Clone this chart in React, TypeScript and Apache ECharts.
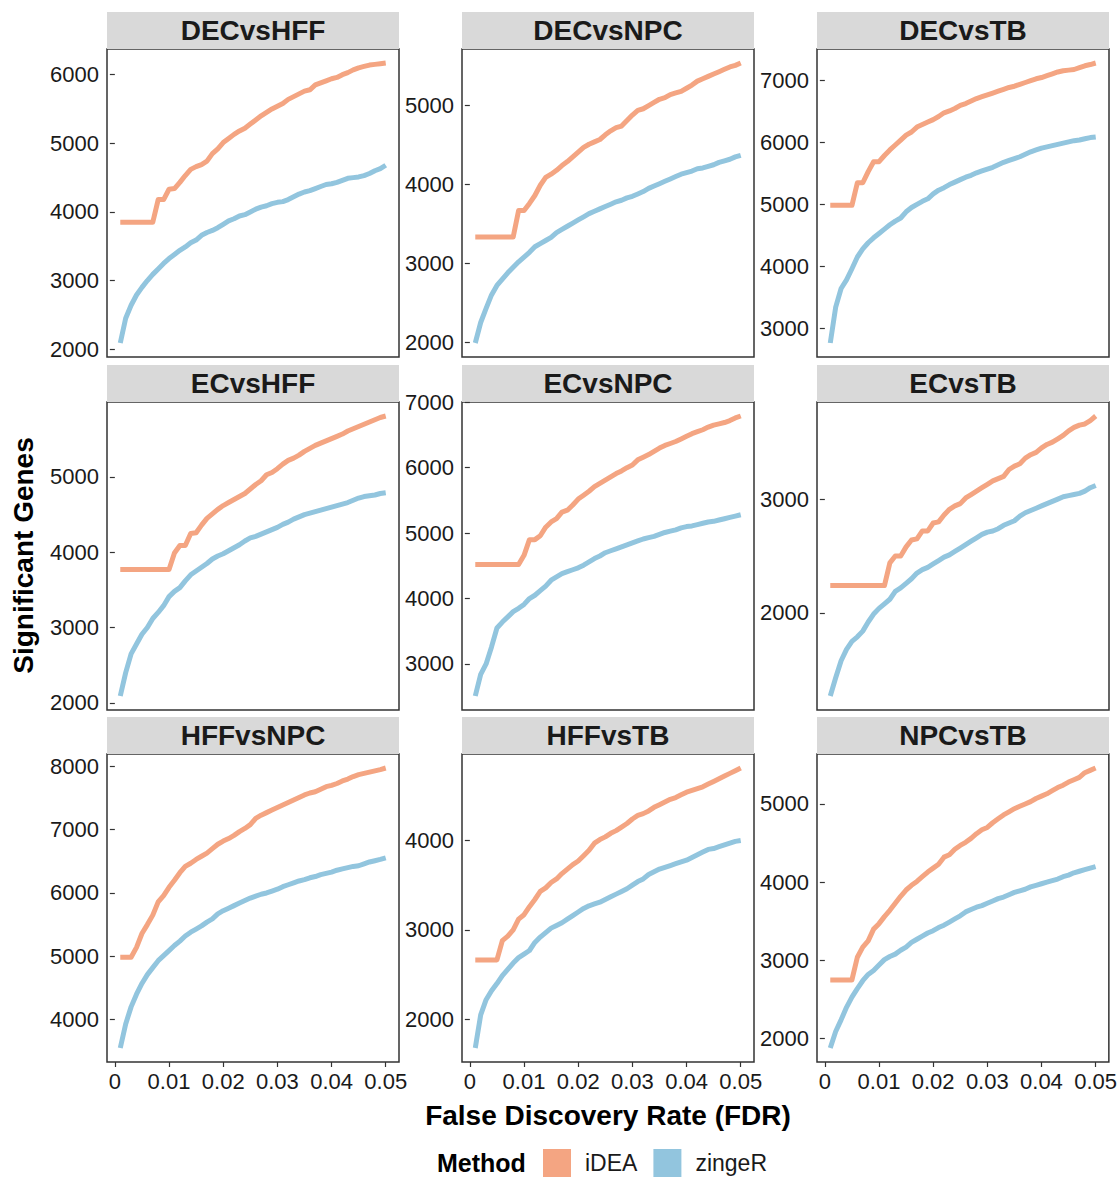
import React, { useEffect, useRef } from "react";
import * as echarts from "echarts";

const fdr = [
  0.001, 0.002, 0.003, 0.004, 0.005, 0.006, 0.007, 0.008, 0.009, 0.01,
  0.011, 0.012, 0.013, 0.014, 0.015, 0.016, 0.017, 0.018, 0.019, 0.02,
  0.021, 0.022, 0.023, 0.024, 0.025, 0.026, 0.027, 0.028, 0.029, 0.03,
  0.031, 0.032, 0.033, 0.034, 0.035, 0.036, 0.037, 0.038, 0.039, 0.04,
  0.041, 0.042, 0.043, 0.044, 0.045, 0.046, 0.047, 0.048, 0.049, 0.05,
];

const panelNames = [
  "DECvsHFF", "DECvsNPC", "DECvsTB",
  "ECvsHFF", "ECvsNPC", "ECvsTB",
  "HFFvsNPC", "HFFvsTB", "NPCvsTB",
];

const methods = ["iDEA", "zingeR"];
const methodColors = ["#F4A582", "#92C5DE"];

// ---- iDEA ----
const iDEA_DECvsHFF = [
  3850, 3850, 3850, 3850, 3850, 3850, 3850, 4180, 4180, 4330,
  4340, 4430, 4530, 4620, 4660, 4690, 4740, 4850, 4920, 5010,
  5070, 5130, 5180, 5220, 5280, 5340, 5400, 5450, 5500, 5540,
  5580, 5640, 5680, 5720, 5760, 5780, 5850, 5880, 5910, 5940,
  5960, 6000, 6030, 6070, 6100, 6120, 6140, 6150, 6160, 6170,
];
const iDEA_DECvsNPC = [
  3335, 3335, 3335, 3335, 3335, 3335, 3335, 3335, 3670, 3670,
  3760, 3860, 3990, 4090, 4130, 4180, 4240, 4290, 4350, 4410,
  4470, 4510, 4540, 4570, 4630, 4680, 4720, 4740, 4810, 4880,
  4940, 4960, 5000, 5040, 5080, 5100, 5140, 5160, 5180, 5220,
  5260, 5310, 5340, 5370, 5400, 5430, 5460, 5490, 5510, 5540,
];
const iDEA_DECvsTB = [
  4985, 4985, 4985, 4985, 4985, 5350, 5350, 5530, 5690, 5690,
  5790, 5880, 5960, 6040, 6120, 6170, 6250, 6290, 6330, 6370,
  6420, 6480, 6510, 6550, 6600, 6630, 6670, 6710, 6740, 6770,
  6800, 6830, 6860, 6890, 6910, 6940, 6970, 7000, 7030, 7050,
  7080, 7110, 7140, 7160, 7170, 7180, 7210, 7240, 7260, 7285,
];
const iDEA_ECvsHFF = [
  3770, 3770, 3770, 3770, 3770, 3770, 3770, 3770, 3770, 3770,
  3990, 4090, 4090, 4250, 4260, 4360, 4450, 4510, 4570, 4620,
  4660, 4700, 4740, 4780, 4840, 4900, 4950, 5030, 5060, 5110,
  5170, 5220, 5250, 5290, 5340, 5380, 5420, 5450, 5480, 5510,
  5540, 5570, 5610, 5640, 5670, 5700, 5730, 5760, 5790, 5810,
];
const iDEA_ECvsNPC = [
  4520, 4520, 4520, 4520, 4520, 4520, 4520, 4520, 4520, 4660,
  4900, 4900, 4960, 5090, 5170, 5220, 5320, 5350, 5430, 5520,
  5580, 5640, 5710, 5760, 5810, 5860, 5910, 5950, 6000, 6040,
  6120, 6160, 6200, 6250, 6300, 6340, 6370, 6400, 6440, 6480,
  6520, 6550, 6580, 6620, 6650, 6670, 6690, 6720, 6760, 6790,
];
const iDEA_ECvsTB = [
  2240, 2240, 2240, 2240, 2240, 2240, 2240, 2240, 2240, 2240,
  2240, 2440, 2500, 2500, 2580, 2640, 2650, 2720, 2720, 2790,
  2800, 2860, 2910, 2940, 2960, 3010, 3040, 3070, 3100, 3130,
  3160, 3180, 3200, 3260, 3290, 3310, 3360, 3390, 3410, 3450,
  3480, 3500, 3530, 3560, 3600, 3630, 3650, 3660, 3690, 3730,
];
const iDEA_HFFvsNPC = [
  4985, 4985, 4985, 5140, 5360, 5500, 5650, 5860, 5960, 6090,
  6200, 6320, 6420, 6470, 6530, 6580, 6630, 6700, 6770, 6820,
  6860, 6910, 6970, 7020, 7080, 7180, 7230, 7270, 7310, 7350,
  7390, 7430, 7470, 7510, 7550, 7580, 7600, 7640, 7680, 7700,
  7730, 7770, 7800, 7840, 7870, 7890, 7910, 7930, 7950, 7975,
];
const iDEA_HFFvsTB = [
  2665, 2665, 2665, 2665, 2665, 2880, 2930, 3000, 3120, 3170,
  3260, 3340, 3430, 3470, 3530, 3570, 3630, 3680, 3730, 3770,
  3830, 3890, 3970, 4010, 4040, 4080, 4110, 4150, 4190, 4240,
  4280, 4300, 4330, 4370, 4400, 4430, 4460, 4480, 4510, 4540,
  4560, 4580, 4600, 4630, 4660, 4690, 4720, 4750, 4780, 4810,
];
const iDEA_NPCvsTB = [
  2750, 2750, 2750, 2750, 2750, 3040, 3170, 3250, 3400, 3470,
  3560, 3640, 3730, 3820, 3900, 3960, 4010, 4070, 4130, 4180,
  4230, 4320, 4350, 4420, 4470, 4510, 4560, 4620, 4670, 4700,
  4760, 4810, 4860, 4900, 4940, 4970, 5000, 5030, 5070, 5100,
  5130, 5170, 5210, 5240, 5280, 5310, 5340, 5400, 5430, 5460,
];

// ---- zingeR ----
const zingeR_DECvsHFF = [
  2090, 2450, 2640, 2790, 2900, 3000, 3090, 3170, 3250, 3320,
  3380, 3440, 3490, 3550, 3590, 3660, 3700, 3730, 3770, 3820,
  3870, 3900, 3940, 3960, 4000, 4040, 4070, 4090, 4120, 4140,
  4150, 4180, 4220, 4260, 4290, 4310, 4340, 4370, 4400, 4410,
  4430, 4460, 4490, 4500, 4510, 4530, 4560, 4600, 4630, 4680,
];
const zingeR_DECvsNPC = [
  1990, 2250, 2430, 2600, 2720, 2800, 2880, 2950, 3020, 3080,
  3140, 3210, 3250, 3290, 3330, 3390, 3430, 3470, 3510, 3550,
  3590, 3630, 3660, 3690, 3720, 3750, 3780, 3800, 3830, 3850,
  3880, 3910, 3950, 3980, 4010, 4040, 4070, 4100, 4130, 4150,
  4170, 4200, 4210, 4230, 4250, 4280, 4300, 4320, 4350, 4370,
];
const zingeR_DECvsTB = [
  2760, 3340, 3640, 3780, 3960, 4150, 4280, 4380, 4460, 4530,
  4600, 4670, 4730, 4780, 4880, 4950, 5000, 5050, 5090, 5170,
  5230, 5270, 5320, 5360, 5400, 5440, 5470, 5510, 5540, 5570,
  5600, 5640, 5680, 5710, 5740, 5770, 5810, 5850, 5880, 5910,
  5930, 5950, 5970, 5990, 6010, 6030, 6040, 6060, 6080, 6090,
];
const zingeR_ECvsHFF = [
  2090, 2400, 2650, 2780, 2910, 3000, 3120, 3200, 3290, 3410,
  3480, 3530, 3620, 3700, 3750, 3800, 3850, 3910, 3950, 3980,
  4020, 4060, 4100, 4150, 4190, 4210, 4240, 4270, 4300, 4330,
  4370, 4400, 4440, 4470, 4500, 4520, 4540, 4560, 4580, 4600,
  4620, 4640, 4660, 4690, 4720, 4740, 4750, 4760, 4780, 4790,
];
const zingeR_ECvsNPC = [
  2510, 2840, 3000, 3260, 3550, 3640, 3720, 3800, 3850, 3910,
  4000, 4050, 4120, 4190, 4280, 4330, 4380, 4410, 4440, 4470,
  4510, 4560, 4610, 4650, 4700, 4730, 4760, 4790, 4820, 4850,
  4880, 4910, 4930, 4950, 4980, 5010, 5030, 5050, 5080, 5100,
  5110, 5130, 5150, 5170, 5180, 5200, 5220, 5240, 5260, 5280,
];
const zingeR_ECvsTB = [
  1270, 1430, 1580, 1680, 1750, 1790, 1840, 1920, 1990, 2040,
  2080, 2120, 2190, 2220, 2260, 2300, 2350, 2380, 2400, 2430,
  2460, 2490, 2510, 2540, 2570, 2600, 2630, 2660, 2690, 2710,
  2720, 2740, 2770, 2790, 2810, 2850, 2880, 2900, 2920, 2940,
  2960, 2980, 3000, 3020, 3030, 3040, 3050, 3070, 3100, 3120,
];
const zingeR_HFFvsNPC = [
  3550, 3930, 4200, 4400, 4570, 4710, 4820, 4930, 5010, 5090,
  5170, 5240, 5320, 5380, 5430, 5480, 5540, 5590, 5670, 5720,
  5760, 5800, 5840, 5880, 5920, 5950, 5980, 6000, 6030, 6060,
  6100, 6130, 6160, 6190, 6210, 6240, 6260, 6290, 6310, 6330,
  6360, 6380, 6400, 6420, 6430, 6460, 6490, 6510, 6530, 6555,
];
const zingeR_HFFvsTB = [
  1680, 2050, 2220, 2320, 2400, 2490, 2560, 2630, 2690, 2730,
  2770, 2860, 2920, 2970, 3020, 3050, 3080, 3120, 3160, 3200,
  3240, 3270, 3290, 3310, 3340, 3370, 3400, 3430, 3460, 3500,
  3540, 3570, 3620, 3650, 3680, 3700, 3720, 3740, 3760, 3780,
  3810, 3840, 3870, 3900, 3910, 3930, 3950, 3970, 3990, 4000,
];
const zingeR_NPCvsTB = [
  1880, 2090, 2240, 2400, 2530, 2640, 2740, 2820, 2870, 2940,
  3010, 3050, 3080, 3130, 3170, 3230, 3270, 3310, 3350, 3380,
  3420, 3450, 3490, 3530, 3570, 3620, 3650, 3680, 3700, 3730,
  3760, 3790, 3810, 3840, 3870, 3890, 3910, 3940, 3960, 3980,
  4000, 4020, 4040, 4070, 4090, 4120, 4140, 4160, 4180, 4200,
];

const iDEAValues = [
  iDEA_DECvsHFF, iDEA_DECvsNPC, iDEA_DECvsTB,
  iDEA_ECvsHFF, iDEA_ECvsNPC, iDEA_ECvsTB,
  iDEA_HFFvsNPC, iDEA_HFFvsTB, iDEA_NPCvsTB,
];
const zingeRValues = [
  zingeR_DECvsHFF, zingeR_DECvsNPC, zingeR_DECvsTB,
  zingeR_ECvsHFF, zingeR_ECvsNPC, zingeR_ECvsTB,
  zingeR_HFFvsNPC, zingeR_HFFvsTB, zingeR_NPCvsTB,
];

// tick labels
const xTickValues = [0, 0.01, 0.02, 0.03, 0.04, 0.05];
const xTickLabels = ["0", "0.01", "0.02", "0.03", "0.04", "0.05"];
const yTicks = [
  [2000, 3000, 4000, 5000, 6000],
  [2000, 3000, 4000, 5000],
  [3000, 4000, 5000, 6000, 7000],
  [2000, 3000, 4000, 5000],
  [3000, 4000, 5000, 6000, 7000],
  [2000, 3000],
  [4000, 5000, 6000, 7000, 8000],
  [2000, 3000, 4000],
  [2000, 3000, 4000, 5000],
];

// layout
const colLeft = [107, 462, 817];
const rowTop = [49, 402, 754];
const panelW = 292;
const panelH = 308;
const stripH = 37;
const FONT = "'Liberation Sans', Arial, Helvetica, sans-serif";

function expand(lo: number, hi: number) {
  const r = hi - lo;
  return [lo - 0.05 * r, hi + 0.05 * r];
}

export default function App() {
  const ref = useRef<HTMLDivElement>(null);

  useEffect(() => {
    document.body.style.margin = "0";
    if (!ref.current) return;
    const chart = echarts.init(ref.current, undefined, { renderer: "svg" });

    const grids: any[] = [];
    const xAxes: any[] = [];
    const yAxes: any[] = [];
    const series: any[] = [];
    const graphics: any[] = [];

    const [xMin, xMax] = expand(fdr[0], fdr[fdr.length - 1]);

    panelNames.forEach((name, i) => {
      const r = Math.floor(i / 3);
      const c = i % 3;
      const left = colLeft[c];
      const top = rowTop[r];
      grids.push({
        left,
        top,
        width: panelW,
        height: panelH,
        show: true,
        borderColor: "#333333",
        borderWidth: 1.5,
        backgroundColor: "#ffffff",
        containLabel: false,
      });
      const bottomRow = r === 2;
      xAxes.push({
        type: "value",
        gridIndex: i,
        min: xMin,
        max: xMax,
        axisLine: { show: false },
        splitLine: { show: false },
        axisTick: {
          show: bottomRow,
          length: 5,
          customValues: xTickValues,
          lineStyle: { color: "#333333", width: 1.2 },
        },
        axisLabel: {
          show: bottomRow,
          customValues: xTickValues,
          margin: 8,
          fontSize: 22,
          color: "#1a1a1a",
          fontFamily: FONT,
          formatter: (v: number) => {
            const k = xTickValues.findIndex((t) => Math.abs(t - v) < 1e-9);
            return k >= 0 ? xTickLabels[k] : "";
          },
        },
      });
      const all = iDEAValues[i].concat(zingeRValues[i]);
      const [yMin, yMax] = expand(Math.min(...all), Math.max(...all));
      const ticks = yTicks[i].filter((t) => t >= yMin && t <= yMax);
      yAxes.push({
        type: "value",
        gridIndex: i,
        min: yMin,
        max: yMax,
        axisLine: { show: false },
        splitLine: { show: false },
        axisTick: {
          show: true,
          length: 5,
          customValues: ticks,
          lineStyle: { color: "#333333", width: 1.2 },
        },
        axisLabel: {
          customValues: ticks,
          margin: 8,
          fontSize: 22,
          color: "#1a1a1a",
          fontFamily: FONT,
          formatter: (v: number) => String(Math.round(v)),
        },
      });
      [iDEAValues[i], zingeRValues[i]].forEach((vals, m) => {
        series.push({
          type: "line",
          name: methods[m],
          xAxisIndex: i,
          yAxisIndex: i,
          data: fdr.map((x, k) => [x, vals[k]]),
          showSymbol: false,
          symbol: "none",
          color: methodColors[m],
          lineStyle: { width: 5, color: methodColors[m], cap: "butt", join: "round" },
          clip: true,
          z: 3,
        });
      });
      graphics.push({
        type: "rect",
        shape: { x: left, y: top - stripH, width: panelW, height: stripH },
        style: { fill: "#d9d9d9" },
        silent: true,
      });
      graphics.push({
        type: "text",
        x: left + panelW / 2,
        y: top - stripH / 2,
        style: {
          text: name,
          textAlign: "center",
          textVerticalAlign: "middle",
          font: `bold 28px ${FONT}`,
          fill: "#1a1a1a",
        },
        silent: true,
      });
    });

    // axis titles
    graphics.push({
      type: "text",
      x: (colLeft[0] + colLeft[2] + panelW) / 2,
      y: 1115,
      style: {
        text: "False Discovery Rate (FDR)",
        textAlign: "center",
        textVerticalAlign: "middle",
        font: `bold 28px ${FONT}`,
        fill: "#000000",
      },
      silent: true,
    });
    graphics.push({
      type: "text",
      x: 23,
      y: (rowTop[0] + rowTop[2] + panelH) / 2,
      rotation: Math.PI / 2,
      style: {
        text: "Significant Genes",
        textAlign: "center",
        textVerticalAlign: "middle",
        font: `bold 28px ${FONT}`,
        fill: "#000000",
      },
      silent: true,
    });
    graphics.push({
      type: "text",
      x: 437,
      y: 1163,
      style: {
        text: "Method",
        textAlign: "left",
        textVerticalAlign: "middle",
        font: `bold 25px ${FONT}`,
        fill: "#000000",
      },
      silent: true,
    });

    chart.setOption({
      animation: false,
      backgroundColor: "#ffffff",
      grid: grids,
      xAxis: xAxes,
      yAxis: yAxes,
      series,
      legend: {
        data: methods.map((m) => ({ name: m, icon: "rect" })),
        left: 543,
        top: 1149,
        orient: "horizontal",
        itemWidth: 28,
        itemHeight: 28,
        itemGap: 16,
        padding: 0,
        selectedMode: false,
        textStyle: {
          fontSize: 23,
          color: "#1a1a1a",
          fontFamily: FONT,
          padding: [0, 0, 0, 9],
        },
      },
      graphic: graphics,
    });

    return () => chart.dispose();
  }, []);

  return <div ref={ref} style={{ width: 1120, height: 1177 }} />;
}
